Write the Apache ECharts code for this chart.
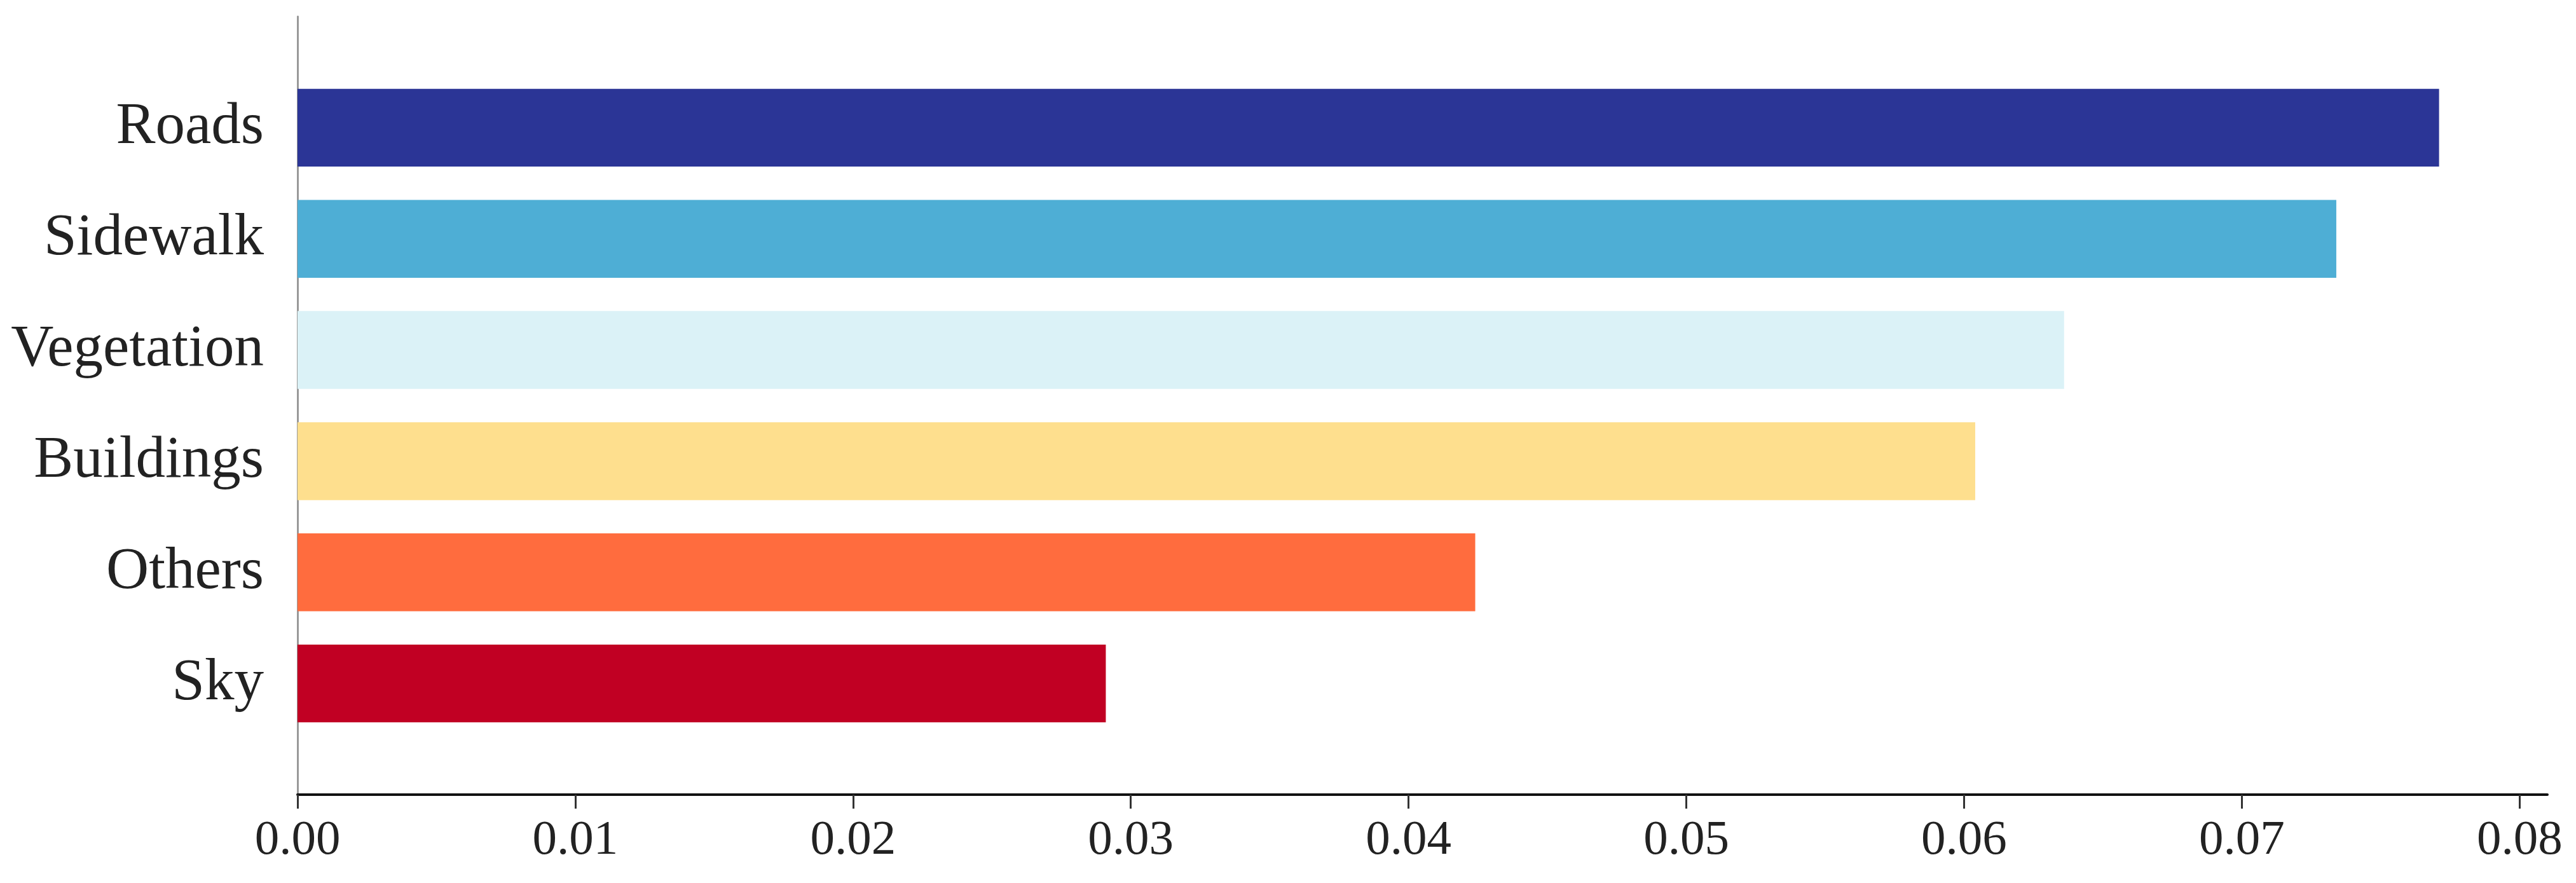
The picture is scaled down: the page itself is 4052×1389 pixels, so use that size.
<!DOCTYPE html>
<html>
<head>
<meta charset="utf-8">
<script src="https://cdn.jsdelivr.net/npm/echarts@6/dist/echarts.min.js"></script>
<style>
  html, body { margin: 0; padding: 0; background: #fff; }
  #chart { width: 4052px; height: 1389px; }
</style>
</head>
<body>
<div id="chart"></div>
<script>
// data
const categories = ['Roads', 'Sidewalk', 'Vegetation', 'Buildings', 'Others', 'Sky']
const values = [0.0771, 0.0734, 0.0636, 0.0604, 0.0424, 0.0291]
const xTicks = [0, 0.01, 0.02, 0.03, 0.04, 0.05, 0.06, 0.07, 0.08]

const barColors = ['#2b3596', '#4eaed5', '#dbf2f7', '#fedf8e', '#ff6c3e', '#c10023']

// half a band of empty room above the first and below the last bar
const yData = [''].concat(categories).concat([''])
const barData = ['-'].concat(values.map(function(v, i) {
  return { value: v, itemStyle: { color: barColors[i] } }
})).concat(['-'])

const chart = echarts.init(document.getElementById('chart'), null, { renderer: 'canvas' })

chart.setOption({
  animation: false,
  backgroundColor: '#fff',
  grid: {
    left: 468,
    right: 45,
    top: 26,
    bottom: 139,
    containLabel: false
  },
  xAxis: {
    type: 'value',
    min: 0,
    max: 0.081,
    splitLine: { show: false },
    axisLine: {
      show: true,
      lineStyle: { color: '#111', width: 4 }
    },
    axisTick: {
      show: true,
      length: 22,
      customValues: xTicks,
      lineStyle: { color: '#333', width: 3 }
    },
    axisLabel: {
      customValues: xTicks,
      margin: 34,
      color: '#222',
      fontFamily: 'Liberation Serif',
      fontSize: 77,
      formatter: function(v) {
        return v.toFixed(2)
      }
    }
  },
  yAxis: {
    type: 'category',
    data: yData,
    inverse: true,
    boundaryGap: false,
    axisLine: {
      show: true,
      lineStyle: { color: '#999', width: 3 }
    },
    axisTick: { show: false },
    splitLine: { show: false },
    axisLabel: {
      margin: 53,
      color: '#222',
      fontFamily: 'Liberation Serif',
      fontSize: 93,
      interval: 0
    }
  },
  series: [{
    type: 'bar',
    data: barData,
    barWidth: '70%'
  }]
})
</script>
</body>
</html>
